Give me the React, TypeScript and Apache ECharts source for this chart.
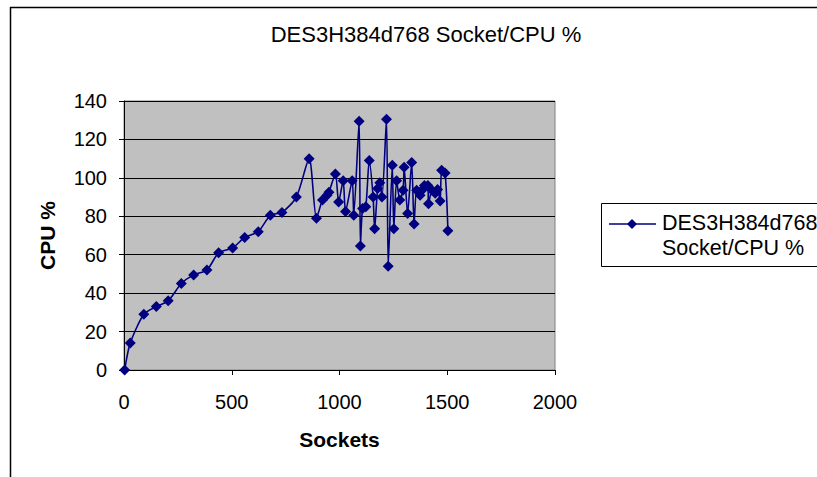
import React, { useEffect, useRef } from "react";
import * as echarts from "echarts";

// Sockets vs CPU % measurements
const sockets: number[] = [
  3, 29, 92, 150, 205, 266, 323, 385, 439, 504, 560, 623, 679, 733, 800, 859,
  893, 921, 942, 951, 981, 996, 1017, 1028, 1059, 1066, 1091, 1097, 1107, 1122,
  1138, 1156, 1163, 1177, 1187, 1197, 1218, 1226, 1245, 1252, 1265, 1280, 1295,
  1300, 1316, 1335, 1346, 1358, 1374, 1386, 1394, 1410, 1413, 1429, 1444, 1455,
  1467, 1474, 1490, 1503,
];
const cpuPercent: number[] = [
  0, 14, 29, 33, 36, 45, 49.5, 52, 61, 63.5, 69, 72, 80.5, 82, 90, 110,
  79, 88.5, 91, 92.5, 102, 87.5, 98.5, 82.5, 98.5, 80.5, 129.5, 64.5, 84, 85,
  109, 90, 73.5, 94.5, 97.5, 90, 130.5, 54, 106.5, 73.5, 98.5, 88.5, 93.5,
  105.5, 81.5, 108, 76, 93.5, 91, 94, 96, 96, 86.5, 93.5, 92, 94,
  88, 104, 102.5, 72.5,
];

const seriesName = "DES3H384d768 Socket/CPU %";
const legendLines = ["DES3H384d768", "Socket/CPU %"];
const xTicks = { min: 0, max: 2000, step: 500 };
const yTicks = { min: 0, max: 140, step: 20 };

const FONT = "'Liberation Sans', Arial, sans-serif";
const NAVY = "#000080";

export default function App() {
  const ref = useRef<HTMLDivElement>(null);

  useEffect(() => {
    if (!ref.current) return;
    const chart = echarts.init(ref.current, null, { renderer: "svg" });
    const data = sockets.map((s, i) => [s, cpuPercent[i]]);

    chart.setOption({
      animation: false,
      backgroundColor: "#ffffff",
      textStyle: { fontFamily: FONT },
      title: {
        text: seriesName,
        left: 421,
        top: 18,
        textAlign: "center",
        textStyle: { fontFamily: FONT, fontSize: 22, fontWeight: "normal", color: "#000" },
      },
      grid: {
        left: 124,
        top: 101,
        right: 262,
        bottom: 107,
        show: true,
        backgroundColor: "#c0c0c0",
        borderColor: "#808080",
        borderWidth: 1,
      },
      xAxis: {
        type: "value",
        min: xTicks.min,
        max: xTicks.max,
        interval: xTicks.step,
        name: "Sockets",
        nameLocation: "middle",
        nameGap: 59,
        nameTextStyle: { fontFamily: FONT, fontSize: 21, fontWeight: "bold", color: "#000" },
        axisLine: { show: true, onZero: false, lineStyle: { color: "#000", width: 1 } },
        axisTick: { show: true, inside: false, length: 5, lineStyle: { color: "#000" } },
        axisLabel: {
          fontFamily: FONT,
          fontSize: 20,
          color: "#000",
          margin: 22,
          formatter: (v: number) => String(v),
        },
        splitLine: { show: false },
      },
      yAxis: {
        type: "value",
        min: yTicks.min,
        max: yTicks.max,
        interval: yTicks.step,
        name: "CPU %",
        nameLocation: "middle",
        nameGap: 66,
        nameTextStyle: { fontFamily: FONT, fontSize: 21, fontWeight: "bold", color: "#000" },
        axisLine: { show: true, lineStyle: { color: "#000", width: 1 } },
        axisTick: { show: true, inside: false, length: 5, lineStyle: { color: "#000" } },
        axisLabel: {
          fontFamily: FONT,
          fontSize: 20,
          color: "#000",
          margin: 17,
          formatter: (v: number) => String(v),
        },
        splitLine: { show: true, lineStyle: { color: "#000", width: 1 } },
      },
      series: [
        {
          name: seriesName,
          type: "line",
          data,
          smooth: 0.25,
          symbol: "diamond",
          symbolSize: 11,
          itemStyle: { color: NAVY },
          lineStyle: { color: NAVY, width: 1.6 },
        },
      ],
      graphic: [
        // chart area frame
        {
          type: "rect",
          shape: { x: 10.5, y: 7.5, width: 900, height: 600 },
          style: { fill: "none", stroke: "#000", lineWidth: 1.5 },
          silent: true,
        },
        // legend box
        {
          type: "rect",
          shape: { x: 601.5, y: 203.5, width: 300, height: 63 },
          style: { fill: "#fff", stroke: "#000", lineWidth: 1 },
          silent: true,
        },
        {
          type: "line",
          shape: { x1: 609, y1: 224, x2: 656, y2: 224 },
          style: { stroke: NAVY, lineWidth: 1.6 },
          silent: true,
        },
        {
          type: "polygon",
          shape: { points: [[632, 219], [637, 224], [632, 229], [627, 224]] },
          style: { fill: NAVY },
          silent: true,
        },
        {
          type: "text",
          x: 662,
          y: 223,
          style: {
            text: legendLines[0],
            font: `21.5px ${FONT}`,
            fill: "#000",
            verticalAlign: "middle",
          },
          silent: true,
        },
        {
          type: "text",
          x: 662,
          y: 248,
          style: {
            text: legendLines[1],
            font: `21.5px ${FONT}`,
            fill: "#000",
            verticalAlign: "middle",
          },
          silent: true,
        },
      ],
    });

    return () => chart.dispose();
  }, []);

  return (
    <div
      ref={ref}
      style={{ position: "fixed", left: 0, top: 0, width: 817, height: 477 }}
    />
  );
}
